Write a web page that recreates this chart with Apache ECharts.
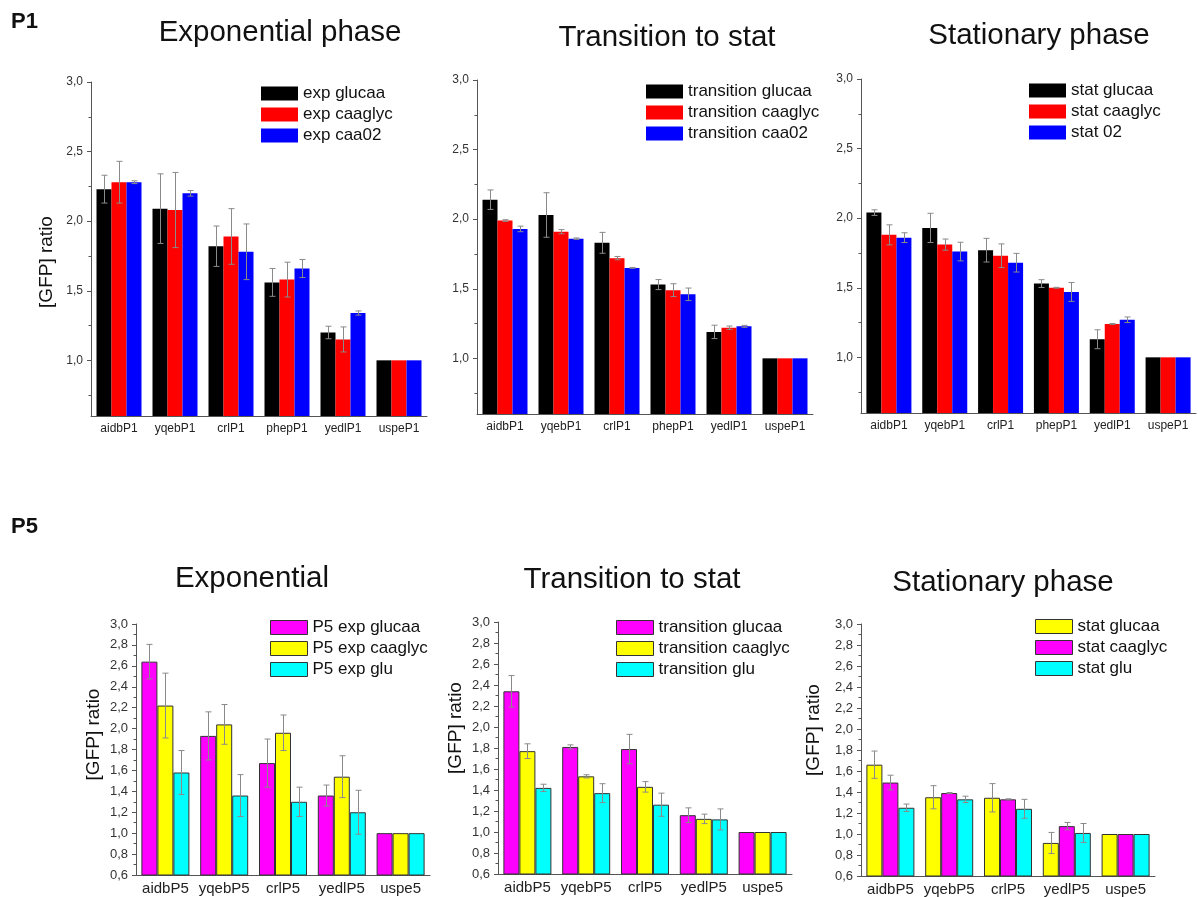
<!DOCTYPE html>
<html><head><meta charset="utf-8">
<script src="https://cdn.jsdelivr.net/npm/echarts@6/dist/echarts.min.js"></script>
<style>html,body{margin:0;padding:0;background:#fff}#c{width:1198px;height:897px}</style>
</head><body><div id="c"></div>
<script>
// ---------- DATA ----------
const catsP1 = ['aidbP1', 'yqebP1', 'crlP1', 'phepP1', 'yedlP1', 'uspeP1'];
const catsP5 = ['aidbP5', 'yqebP5', 'crlP5', 'yedlP5', 'uspe5'];

const topTickLabels = [1.0, 1.5, 2.0, 2.5, 3.0];
const topMinorTicks = [0.75, 1.25, 1.75, 2.25, 2.75];

// P1 exponential phase
const p1ExpGlucaa     = [2.23, 2.09, 1.82, 1.56, 1.20, 1.00];
const p1ExpGlucaaErr  = [0.10, 0.25, 0.145, 0.10, 0.045, 0];
const p1ExpCaaglyc    = [2.28, 2.08, 1.89, 1.58, 1.15, 1.00];
const p1ExpCaaglycErr = [0.15, 0.27, 0.20, 0.125, 0.09, 0];
const p1ExpCaa02      = [2.28, 2.20, 1.78, 1.66, 1.34, 1.00];
const p1ExpCaa02Err   = [0.01, 0.02, 0.20, 0.065, 0.015, 0];

// P1 transition to stat
const p1TrGlucaa      = [2.14, 2.03, 1.83, 1.53, 1.19, 1.00];
const p1TrGlucaaErr   = [0.07, 0.16, 0.075, 0.036, 0.048, 0];
const p1TrCaaglyc     = [1.99, 1.91, 1.72, 1.49, 1.22, 1.00];
const p1TrCaaglycErr  = [0.006, 0.015, 0.012, 0.046, 0.012, 0];
const p1TrCaa02       = [1.93, 1.86, 1.65, 1.46, 1.23, 1.00];
const p1TrCaa02Err    = [0.02, 0.005, 0.003, 0.045, 0.007, 0];

// P1 stationary phase
const p1StGlucaa      = [2.04, 1.93, 1.77, 1.53, 1.13, 1.00];
const p1StGlucaaErr   = [0.02, 0.105, 0.085, 0.028, 0.068, 0];
const p1StCaaglyc     = [1.88, 1.81, 1.73, 1.50, 1.24, 1.00];
const p1StCaaglycErr  = [0.072, 0.04, 0.085, 0.003, 0.003, 0];
const p1St02          = [1.86, 1.76, 1.68, 1.47, 1.27, 1.00];
const p1St02Err       = [0.035, 0.067, 0.067, 0.068, 0.02, 0];

// P5 exponential
const p5ExpGlucaa     = [2.64, 1.93, 1.67, 1.36, 1.00];
const p5ExpGlucaaErr  = [0.165, 0.23, 0.23, 0.10, 0];
const p5ExpCaaglyc    = [2.22, 2.04, 1.96, 1.54, 1.00];
const p5ExpCaaglycErr = [0.31, 0.19, 0.17, 0.20, 0];
const p5ExpGlu        = [1.58, 1.36, 1.30, 1.20, 1.00];
const p5ExpGluErr     = [0.21, 0.20, 0.14, 0.21, 0];

// P5 transition to stat
const p5TrGlucaa      = [2.34, 1.81, 1.79, 1.16, 1.00];
const p5TrGlucaaErr   = [0.15, 0.02, 0.14, 0.07, 0];
const p5TrCaaglyc     = [1.77, 1.53, 1.43, 1.125, 1.00];
const p5TrCaaglycErr  = [0.07, 0.015, 0.05, 0.045, 0];
const p5TrGlu         = [1.42, 1.37, 1.26, 1.12, 1.00];
const p5TrGluErr      = [0.035, 0.09, 0.11, 0.10, 0];

// P5 stationary phase
const p5StGlucaa      = [1.66, 1.35, 1.345, 0.915, 1.00];
const p5StGlucaaErr   = [0.13, 0.11, 0.135, 0.10, 0];
const p5StCaaglyc     = [1.49, 1.39, 1.33, 1.075, 1.00];
const p5StCaaglycErr  = [0.07, 0.005, 0.005, 0.035, 0];
const p5StGlu         = [1.25, 1.33, 1.24, 1.01, 1.00];
const p5StGluErr      = [0.035, 0.03, 0.09, 0.09, 0];

// ---------- STYLE / LAYOUT ----------
const FONT = '"Liberation Sans", Arial, sans-serif';
const BLACK = '#000000', RED = '#ff0000', BLUE = '#0000ff';
const MAG = '#ff00ff', YEL = '#ffff00', CYAN = '#00ffff';
const AXIS = '#555555';
const ERR = '#8a8a8a';

const panels = [
  { kind: 'top', cats: catsP1, grid: [91, 82, 336, 334], bw: 15, legend: [261, 85], yName: true, nameGap: 35, namePad: [0, 26, 0, 0],
    series: [
      { name: 'exp glucaa', color: BLACK, data: p1ExpGlucaa, err: p1ExpGlucaaErr },
      { name: 'exp caaglyc', color: RED, data: p1ExpCaaglyc, err: p1ExpCaaglycErr },
      { name: 'exp caa02', color: BLUE, data: p1ExpCaa02, err: p1ExpCaa02Err } ] },
  { kind: 'top', cats: catsP1, grid: [477, 80, 336, 334], bw: 15, legend: [646, 83], yName: false,
    series: [
      { name: 'transition glucaa', color: BLACK, data: p1TrGlucaa, err: p1TrGlucaaErr },
      { name: 'transition caaglyc', color: RED, data: p1TrCaaglyc, err: p1TrCaaglycErr },
      { name: 'transition caa02', color: BLUE, data: p1TrCaa02, err: p1TrCaa02Err } ] },
  { kind: 'top', cats: catsP1, grid: [861, 79, 335, 334], bw: 15, legend: [1029, 82], yName: false,
    series: [
      { name: 'stat glucaa', color: BLACK, data: p1StGlucaa, err: p1StGlucaaErr },
      { name: 'stat caaglyc', color: RED, data: p1StCaaglyc, err: p1StCaaglycErr },
      { name: 'stat 02', color: BLUE, data: p1St02, err: p1St02Err } ] },
  { kind: 'bot', cats: catsP5, grid: [136, 624, 294, 251], bw: 16, legend: [270, 619], yName: true, nameGap: 33, namePad: [0, 0, 0, 30],
    series: [
      { name: 'P5 exp glucaa', color: MAG, data: p5ExpGlucaa, err: p5ExpGlucaaErr },
      { name: 'P5 exp caaglyc', color: YEL, data: p5ExpCaaglyc, err: p5ExpCaaglycErr },
      { name: 'P5 exp glu', color: CYAN, data: p5ExpGlu, err: p5ExpGluErr } ] },
  { kind: 'bot', cats: catsP5, grid: [498, 622, 294, 252], bw: 16, legend: [616, 619], yName: true, nameGap: 33, namePad: [0, 0, 0, 40],
    series: [
      { name: 'transition glucaa', color: MAG, data: p5TrGlucaa, err: p5TrGlucaaErr },
      { name: 'transition caaglyc', color: YEL, data: p5TrCaaglyc, err: p5TrCaaglycErr },
      { name: 'transition glu', color: CYAN, data: p5TrGlu, err: p5TrGluErr } ] },
  { kind: 'bot', cats: catsP5, grid: [861, 624, 294, 252], bw: 16, legend: [1035, 618], yName: true, nameGap: 38, namePad: [0, 0, 0, 40],
    series: [
      { name: 'stat glucaa', color: YEL, data: p5StGlucaa, err: p5StGlucaaErr },
      { name: 'stat caaglyc', color: MAG, data: p5StCaaglyc, err: p5StCaaglycErr },
      { name: 'stat glu', color: CYAN, data: p5StGlu, err: p5StGluErr } ] }
];

const fmt = v => (Math.round(v * 10) / 10).toFixed(1).replace('.', ',');

const grids = [], xAxes = [], yAxes = [], series = [], legends = [];

panels.forEach((p, i) => {
  const top = p.kind === 'top';
  grids.push({ left: p.grid[0], top: p.grid[1], width: p.grid[2], height: p.grid[3] });
  const xi = xAxes.length;
  xAxes.push({
    gridIndex: i, type: 'category', data: p.cats, position: 'bottom',
    axisLine: { lineStyle: { color: AXIS, width: 1 } },
    axisTick: { alignWithLabel: true, length: 4, lineStyle: { color: AXIS } },
    axisLabel: { interval: 0, color: '#222', fontFamily: FONT, fontSize: top ? 12 : 15, margin: top ? 7 : 6 },
    splitLine: { show: false }
  });
  xAxes.push({
    gridIndex: i, type: 'category', data: p.cats, position: 'bottom',
    axisLine: { show: false },
    axisTick: { length: 3, lineStyle: { color: AXIS } },
    axisLabel: { show: false }, splitLine: { show: false }
  });
  const yi = yAxes.length;
  const nameOpts = p.yName ? {
    name: '[GFP] ratio', nameLocation: 'middle', nameGap: p.nameGap,
    nameTextStyle: { fontFamily: FONT, fontSize: 19, color: '#111', padding: p.namePad }
  } : {};
  if (top) {
    yAxes.push(Object.assign({
      gridIndex: i, type: 'value', min: 0.6, max: 3.0, position: 'left',
      axisLine: { show: true, lineStyle: { color: AXIS, width: 1 } },
      axisTick: { show: true, customValues: topTickLabels, length: 4, lineStyle: { color: AXIS } },
      axisLabel: { customValues: topTickLabels, formatter: fmt, color: '#333', fontFamily: FONT, fontSize: 12, margin: 8 },
      splitLine: { show: false }
    }, nameOpts));
    yAxes.push({
      gridIndex: i, type: 'value', min: 0.6, max: 3.0, position: 'left',
      axisLine: { show: false },
      axisTick: { show: true, customValues: topMinorTicks, length: 2.5, lineStyle: { color: AXIS } },
      axisLabel: { show: false }, splitLine: { show: false }
    });
  } else {
    yAxes.push(Object.assign({
      gridIndex: i, type: 'value', min: 0.6, max: 3.0, interval: 0.2, position: 'left',
      axisLine: { show: true, lineStyle: { color: AXIS, width: 1 } },
      axisTick: { show: true, length: 4, lineStyle: { color: AXIS } },
      minorTick: { show: true, splitNumber: 2, length: 2.5, lineStyle: { color: AXIS } },
      axisLabel: { formatter: fmt, color: '#333', fontFamily: FONT, fontSize: 13, margin: 8 },
      splitLine: { show: false }
    }, nameOpts));
  }
  p.series.forEach((s, k) => {
    series.push({
      type: 'bar', name: s.name, xAxisIndex: xi, yAxisIndex: yi,
      data: s.data, barWidth: p.bw, barGap: '0%',
      itemStyle: top ? { color: s.color } : { color: s.color, borderColor: '#333', borderWidth: 1 },
      emphasis: { disabled: true }, animation: false
    });
    const off = (k - 1) * p.bw;
    series.push({
      type: 'custom', xAxisIndex: xi, yAxisIndex: yi, z: 10, silent: true, animation: false,
      data: s.data.map((v, j) => [j, v, s.err[j]]),
      encode: { x: 0, y: 1 },
      renderItem: (params, api) => {
        const j = api.value(0), v = api.value(1), e = api.value(2);
        if (!e) return null;
        const hi = api.coord([j, v + e]);
        const lo = api.coord([j, v - e]);
        const x = Math.round(hi[0] + off) + 0.5;
        const cw = 3;
        const st = { stroke: ERR, lineWidth: 1 };
        return { type: 'group', children: [
          { type: 'line', shape: { x1: x, y1: hi[1], x2: x, y2: lo[1] }, style: st },
          { type: 'line', shape: { x1: x - cw, y1: hi[1], x2: x + cw, y2: hi[1] }, style: st },
          { type: 'line', shape: { x1: x - cw, y1: lo[1], x2: x + cw, y2: lo[1] }, style: st }
        ] };
      }
    });
  });
  legends.push({
    orient: 'vertical', left: p.legend[0], top: p.legend[1], padding: 0,
    itemWidth: 37, itemHeight: 14, itemGap: 4, icon: 'rect', selectedMode: false,
    textStyle: { fontFamily: FONT, fontSize: 17, color: '#111' },
    data: p.series.map(s => ({ name: s.name,
      itemStyle: top ? { color: s.color, borderWidth: 0 } : { color: s.color, borderColor: '#333', borderWidth: 1 } }))
  });
});

const txt = (t, x, y, size, bold) => ({
  type: 'text', x: x, y: y,
  style: { text: t, fontFamily: FONT, fontSize: size, fontWeight: bold ? 'bold' : 'normal', fill: '#111', align: bold ? 'left' : 'center', verticalAlign: 'middle' }
});

const chart = echarts.init(document.getElementById('c'), null, { renderer: 'canvas' });
chart.setOption({
  animation: false,
  backgroundColor: '#fff',
  grid: grids, xAxis: xAxes, yAxis: yAxes, series: series, legend: legends,
  graphic: [
    txt('P1', 11, 22, 22, true),
    txt('P5', 11, 527, 22, true),
    txt('Exponential phase', 280, 33, 29.5),
    txt('Transition to stat', 667, 38, 29.5),
    txt('Stationary phase', 1039, 36, 29.5),
    txt('Exponential', 252, 579, 29.5),
    txt('Transition to stat', 632, 580, 29.5),
    txt('Stationary phase', 1003, 583, 29.5)
  ]
});
</script></body></html>
